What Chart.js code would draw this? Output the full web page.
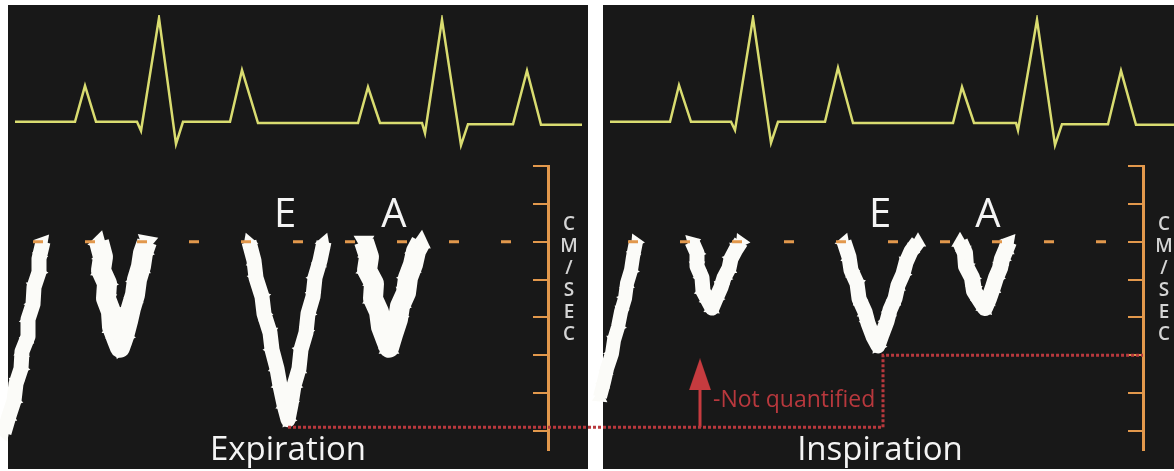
<!DOCTYPE html>
<html>
<head>
<meta charset="utf-8">
<script src="https://cdn.jsdelivr.net/npm/chart.js@4.4.1/dist/chart.umd.min.js"></script>
<style>
  body { margin: 0; background: #fff; }
  #wrap { position: relative; width: 1174px; height: 471px; overflow: hidden; }
  .panel { position: absolute; top: 5px; height: 464px; background: #181818; }
  canvas { position: absolute; left: 0; top: 0; }
</style>
</head>
<body>
<div id="wrap">
  <div class="panel" style="left:8px;width:580px"></div>
  <div class="panel" style="left:603px;width:571px"></div>
  <canvas id="ecg" width="1174" height="471"></canvas>
  <canvas id="doppler" width="1174" height="471"></canvas>
</div>
<script>
// time in ms from the start of each strip, ECG in mV, mitral inflow in cm/s
const stripOffsetMs = 2975;   // inspiration strip sits to the right of expiration
const scaleAtMs = 2700;       // where the cm/sec ruler stands in each strip

// ECG, expiration strip
const ecgExpTime = [35, 335, 385, 440, 645, 665, 755, 840, 875, 1110, 1170, 1250, 1750, 1800, 1860, 2070, 2085, 2170, 2265, 2300, 2525, 2595, 2665, 2870];
const ecgExpMv   = [0.02, 0.02, 0.62, 0.02, 0.02, -0.13, 1.75, -0.35, 0.02, 0.02, 0.88, 0, 0, 0.6, 0, 0, -0.17, 1.72, -0.37, -0.02, -0.02, 0.87, -0.03, -0.03];
// ECG, inspiration strip
const ecgInspTime = [35, 335, 380, 440, 640, 660, 750, 840, 875, 1110, 1175, 1250, 1750, 1795, 1855, 2065, 2075, 2170, 2260, 2295, 2525, 2590, 2665, 2855];
const ecgInspMv   = [0.02, 0.02, 0.63, 0.02, 0.02, -0.12, 1.75, -0.33, 0.02, 0.02, 0.92, 0, 0, 0.6, 0, 0, -0.12, 1.72, -0.37, -0.02, -0.02, 0.87, -0.03, -0.03];

// Doppler envelopes, expiration
const expPrevTime = [175, 155, 155, 130, 125, 100, 100, 70, 65, 40, 30, 5, -20];
const expPrevVel  = [0, -9, -16, -24, -33, -41, -50, -58, -67, -75, -84, -92, -101];
const expBeat1Time = [455, 475, 465, 495, 490, 515, 520, 545, 560, 580, 600, 615, 635, 645, 665, 675, 695];
const expBeat1Vel  = [0, -8, -15, -22, -30, -37, -45, -52, -56, -50, -42, -35, -28, -20, -13, -6, 0];
const expETime = [1205, 1230, 1240, 1270, 1280, 1310, 1320, 1345, 1360, 1380, 1400, 1415, 1430, 1455, 1465, 1490, 1500, 1525, 1535, 1560, 1580];
const expEVel  = [0, -10, -19, -29, -38, -48, -57, -67, -76, -86, -94, -86, -76, -67, -57, -48, -38, -29, -19, -10, 0];
const expATime = [1780, 1805, 1795, 1830, 1825, 1855, 1865, 1890, 1905, 1925, 1950, 1960, 1990, 2000, 2025, 2040, 2065];
const expAVel  = [0, -8, -15, -22, -30, -37, -45, -52, -56, -49, -41, -34, -27, -19, -12, -5, 0];

// Doppler envelopes, inspiration
const inspPrevTime = [165, 150, 140, 120, 110, 90, 75, 55, 45, 20, 5, -15];
const inspPrevVel  = [0, -8, -15, -22, -30, -37, -45, -52, -59, -67, -74, -82];
const inspBeat1Time = [445, 470, 470, 495, 500, 525, 545, 565, 590, 605, 630, 640, 665, 690];
const inspBeat1Vel  = [0, -6, -13, -19, -26, -31, -35, -30, -24, -19, -14, -9, -4, 0];
const inspETime = [1205, 1230, 1240, 1270, 1280, 1310, 1325, 1350, 1375, 1395, 1420, 1435, 1460, 1475, 1500, 1515, 1540, 1575];
const inspEVel  = [0, -8, -15, -22, -30, -37, -43, -50, -55, -49, -42, -36, -30, -23, -17, -11, -5, 0];
const inspATime = [1785, 1810, 1815, 1845, 1855, 1885, 1910, 1930, 1950, 1965, 1985, 1995, 2015, 2030];
const inspAVel  = [0, -6, -13, -19, -26, -31, -35, -30, -24, -19, -14, -9, -4, 0];

// zero-velocity baseline span and the E-peak comparison guide
const baselineTime = [125, 2555];
const guideTime = [1400, 4375, 4375, 5675];
const guideVel  = [-98, -98, -60, -60];
const arrowTime = 3460;
const arrowVel  = [-98, -78];

const ORANGE = '#e2984c';
const YELLOW = '#d9dc70';
const RED = '#b8383d';
const WHITE = '#fbfbf8';
// turns of the little spikes along the spectral envelopes
const spikeTurn = [0, 40, 195, 95, 300, 150, 255, 20, 125, 335, 70, 220];

function pts(times, vals, shift) {
  return times.map((t, i) => ({ x: t + (shift || 0), y: vals[i] }));
}

function envelope(times, vals, shift, width) {
  return {
    data: pts(times, vals, shift),
    borderColor: WHITE,
    borderWidth: width,
    borderJoinStyle: 'round',
    borderCapStyle: 'butt',
    pointStyle: 'triangle',
    pointRadius: width / 2 + 2,
    pointBackgroundColor: WHITE,
    pointBorderWidth: 0,
    pointRotation: (c) => spikeTurn[(c.dataIndex + c.datasetIndex * 5) % spikeTurn.length],
    order: 3
  };
}

// ECG chart (top)
new Chart(document.getElementById('ecg'), {
  type: 'line',
  data: {
    datasets: [
      { data: pts(ecgExpTime, ecgExpMv), borderColor: YELLOW, borderWidth: 2.5, pointRadius: 0 },
      { data: pts(ecgInspTime, ecgInspMv, stripOffsetMs), borderColor: YELLOW, borderWidth: 2.5, pointRadius: 0 }
    ]
  },
  options: {
    responsive: false,
    animation: false,
    layout: { autoPadding: false, padding: { top: 15, bottom: 312, left: 0, right: 0 } },
    plugins: { legend: { display: false }, tooltip: { enabled: false } },
    scales: {
      x: { type: 'linear', min: -40, max: 5830, display: false },
      y: { min: -0.6, max: 1.8, display: false }
    },
    elements: { line: { tension: 0 } }
  }
});

// arrowhead drawn once into a small canvas, used as point style
const arrowHead = document.createElement('canvas');
arrowHead.width = 22; arrowHead.height = 32;
(function () {
  const c = arrowHead.getContext('2d');
  c.fillStyle = '#c63b3f';
  c.beginPath(); c.moveTo(11, 0); c.lineTo(22, 32); c.lineTo(0, 32); c.closePath(); c.fill();
})();

const rulerAxis = (at) => ({
  min: -110, max: 40,
  position: { x: at },
  ticks: { display: false, stepSize: 20, includeBounds: false },
  grid: { drawOnChartArea: false, color: ORANGE, lineWidth: 2, tickLength: 14 },
  border: { color: ORANGE, width: 3 }
});

const textPlugin = {
  id: 'figureText',
  afterDraw(chart) {
    const { ctx, chartArea, scales } = chart;
    const x = scales.x, y = scales.y;
    ctx.save();
    ctx.fillStyle = '#f4f4f4';
    ctx.textAlign = 'center';
    ctx.textBaseline = 'alphabetic';
    ctx.font = '40px "Open Sans"';
    [[1385, 'E'], [1930, 'A'], [1385 + stripOffsetMs, 'E'], [1925 + stripOffsetMs, 'A']].forEach(([t, s]) => {
      ctx.fillText(s, x.getPixelForValue(t), y.getPixelForValue(8));
    });
    ctx.font = '33px "Open Sans"';
    ctx.fillText('Expiration', x.getPixelForValue(1400), chartArea.bottom + 10);
    ctx.fillText('Inspiration', x.getPixelForValue(1385 + stripOffsetMs), chartArea.bottom + 10);
    // vertical unit label beside each ruler
    ctx.fillStyle = '#d4d4d4';
    ctx.font = '600 19px "Open Sans"';
    ctx.textBaseline = 'middle';
    [scaleAtMs, scaleAtMs + stripOffsetMs].forEach(t => {
      const px = x.getPixelForValue(t) + 21;
      'CM/SEC'.split('').forEach((ch, i) => ctx.fillText(ch, px, y.getPixelForValue(9) + i * 22));
    });
    ctx.fillStyle = RED;
    ctx.font = '23px "Open Sans"';
    ctx.textAlign = 'left';
    ctx.fillText('-Not quantified', x.getPixelForValue(3525), y.getPixelForValue(-84));
    ctx.restore();
  }
};

new Chart(document.getElementById('doppler'), {
  type: 'line',
  data: {
    datasets: [
      { data: pts(guideTime, guideVel), borderColor: RED, borderWidth: 3, borderDash: [3, 2], pointRadius: 0, order: 0 },
      { data: pts([arrowTime, arrowTime], arrowVel), borderColor: '#c63b3f', borderWidth: 3, pointRadius: 0, order: 0 },
      { data: [{ x: arrowTime, y: -70 }], pointStyle: arrowHead, pointRadius: 16, showLine: false, order: 0 },
      { data: pts(baselineTime, [0, 0]), borderColor: ORANGE, borderWidth: 3, borderDash: [10, 42], pointRadius: 0, order: 1 },
      { data: pts(baselineTime, [0, 0], stripOffsetMs), borderColor: ORANGE, borderWidth: 3, borderDash: [10, 42], pointRadius: 0, order: 1 },
      envelope(expPrevTime, expPrevVel, 0, 15),
      envelope(expBeat1Time, expBeat1Vel, 0, 20),
      envelope(expETime, expEVel, 0, 15),
      envelope(expATime, expAVel, 0, 20),
      envelope(inspPrevTime, inspPrevVel, stripOffsetMs, 14),
      envelope(inspBeat1Time, inspBeat1Vel, stripOffsetMs, 15),
      envelope(inspETime, inspEVel, stripOffsetMs, 15),
      envelope(inspATime, inspAVel, stripOffsetMs, 16)
    ]
  },
  options: {
    responsive: false,
    animation: false,
    layout: { autoPadding: false, padding: { top: 166, bottom: 21, left: 0, right: 0 } },
    plugins: { legend: { display: false }, tooltip: { enabled: false } },
    scales: {
      x: { type: 'linear', min: -40, max: 5830, display: false },
      y: rulerAxis(scaleAtMs),
      y2: rulerAxis(scaleAtMs + stripOffsetMs)
    },
    elements: { line: { tension: 0 } }
  },
  plugins: [textPlugin]
});
</script>
</body>
</html>
